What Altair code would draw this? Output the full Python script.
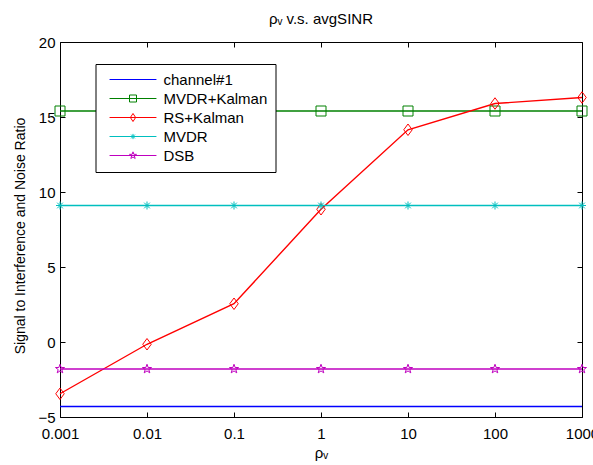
import math
import altair as alt
import pandas as pd

# ---- data ----
rho = [0.001, 0.01, 0.1, 1, 10, 100, 1000]
series_names = ["channel#1", "MVDR+Kalman", "RS+Kalman", "MVDR", "DSB"]
channel1 = [-4.3, -4.3, -4.3, -4.3, -4.3, -4.3, -4.3]
mvdr_kalman = [15.4, 15.4, 15.4, 15.4, 15.4, 15.4, 15.4]
rs_kalman = [-3.45, -0.15, 2.55, 8.85, 14.15, 15.9, 16.3]
mvdr = [9.1, 9.1, 9.1, 9.1, 9.1, 9.1, 9.1]
dsb = [-1.8, -1.8, -1.8, -1.8, -1.8, -1.8, -1.8]
x_ticks = [0.001, 0.01, 0.1, 1, 10, 100, 1000]
y_ticks = [-5, 0, 5, 10, 15, 20]
colors = ["#0000FF", "#008000", "#FF0000", "#00BFBF", "#BF00BF"]

values = [channel1, mvdr_kalman, rs_kalman, mvdr, dsb]
rows = []
for name, vals in zip(series_names, values):
    for r, v in zip(rho, vals):
        rows.append({"rho": r, "value": v, "series": name})
df = pd.DataFrame(rows)

FONT = "Liberation Sans, Arial, Helvetica, sans-serif"


def star_path(r_out, r_in):
    pts = []
    for k in range(10):
        ang = math.radians(-90 + 36 * k)
        r = r_out if k % 2 == 0 else r_in
        pts.append((r * math.cos(ang), r * math.sin(ang)))
    return "M" + "L".join(f"{x:.3f},{y:.3f}" for x, y in pts) + "Z"


def asterisk_path(r):
    d = r * 0.7071
    return (f"M{-r},0H{r}M0,{-r}V{r}"
            f"M{-d:.3f},{-d:.3f}L{d:.3f},{d:.3f}M{-d:.3f},{d:.3f}L{d:.3f},{-d:.3f}")


plot_shapes = [
    "M0,0",
    "M-1,-1H1V1H-1Z",
    "M0,-1.15L0.85,0L0,1.15L-0.85,0Z",
    asterisk_path(0.8),
    star_path(0.95, 0.38),
]
LH = 6.7
line = f"M{-LH},0H{LH}"
legend_shapes = [
    line,
    line + "M-1,-1H1V1H-1Z",
    line + "M0,-1.15L0.75,0L0,1.15L-0.75,0Z",
    line + asterisk_path(0.75),
    line + star_path(1.05, 0.42),
]

xscale = alt.Scale(type="log", domain=[0.001, 1000], nice=False)
yscale = alt.Scale(domain=[-5, 20], nice=False, zero=False)

common = dict(domain=False, grid=False, labelFont=FONT, labelFontSize=15,
              labelColor="black", tickColor="black", tickWidth=1,
              titleFont=FONT, titleFontWeight="normal", titleColor="black")

x_main = alt.Axis(orient="bottom", values=x_ticks, format="~g", ticks=False,
                  tickSize=0, labelPadding=9, labelOverlap=False,
                  labelFlush=False, title="ρᵥ", titlePadding=4,
                  titleFontSize=15, **common)
y_main = alt.Axis(orient="left", values=y_ticks, format="d", ticks=False,
                  tickSize=0, labelPadding=5, labelOverlap=False,
                  labelFlush=False, title="Signal to Interference and Noise Ratio",
                  titleFontSize=14, titleX=-33, titleY=193.5, **common)


def tick_axis(orient, vals):
    return alt.Axis(orient=orient, values=vals, labels=False, ticks=True,
                    tickSize=5, offset=-5, title=None, domain=False, grid=False,
                    tickColor="black", tickWidth=1)


color_scale = alt.Scale(domain=series_names, range=colors)

lines = alt.Chart(df).mark_line(strokeWidth=1.4).encode(
    x=alt.X("rho:Q", scale=xscale, axis=x_main),
    y=alt.Y("value:Q", scale=yscale, axis=y_main),
    color=alt.Color("series:N", scale=color_scale, legend=None),
    detail="series:N",
)

points = alt.Chart(df).transform_filter(
    "datum.series != 'channel#1'"
).mark_point(filled=False, size=100, strokeWidth=1, opacity=1).encode(
    x=alt.X("rho:Q", scale=xscale, axis=tick_axis("bottom", x_ticks)),
    y=alt.Y("value:Q", scale=yscale, axis=tick_axis("left", y_ticks)),
    color=alt.Color("series:N", scale=color_scale, legend=None),
    shape=alt.Shape("series:N", scale=alt.Scale(domain=series_names, range=plot_shapes),
                    legend=None),
)

legend_props = dict(
    title=None, orient="none", legendX=35.5, legendY=22,
    strokeColor="black", fillColor="white", padding=8,
    symbolSize=49, symbolStrokeWidth=1, symbolOffset=22, labelOffset=23,
    labelFont=FONT, labelFontSize=15, labelColor="black", rowPadding=3,
)

legend_layer = alt.Chart(df).transform_filter("false").mark_point(
    filled=False, size=49, strokeWidth=1, opacity=1
).encode(
    x=alt.X("rho:Q", scale=xscale, axis=tick_axis("top", x_ticks)),
    y=alt.Y("value:Q", scale=yscale, axis=tick_axis("right", y_ticks)),
    color=alt.Color("series:N", scale=color_scale, legend=alt.Legend(**legend_props)),
    shape=alt.Shape("series:N", scale=alt.Scale(domain=series_names, range=legend_shapes),
                    legend=alt.Legend(**legend_props)),
)

chart = alt.layer(lines, points, legend_layer).resolve_scale(
    color="independent", shape="independent"
).resolve_axis(
    x="independent", y="independent"
).properties(
    width=522, height=375,
    title=alt.TitleParams("ρᵥ v.s. avgSINR", font=FONT, fontSize=15,
                          fontWeight="normal", color="black", anchor="middle",
                          offset=8),
    autosize=alt.AutoSizeParams(type="none"),
    padding={"left": 60, "top": 42, "right": 11, "bottom": 48},
    background="white",
).configure_view(stroke="black", strokeWidth=1)

chart.save("out.html", embed_options={"renderer": "svg", "actions": False})
